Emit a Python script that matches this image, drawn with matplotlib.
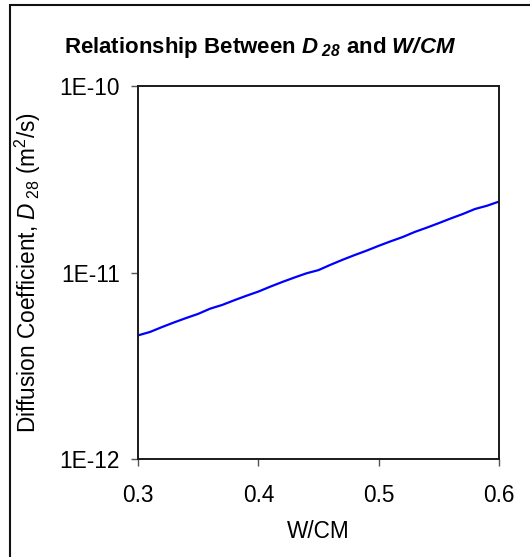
import numpy as np
import matplotlib
matplotlib.use("Agg")
import matplotlib.pyplot as plt
from matplotlib.ticker import FixedLocator, FuncFormatter, NullLocator
from matplotlib.patches import Rectangle

# values (D28 in units of 1e-12 m2/s)
w_cm = [0.30, 0.31, 0.32, 0.33, 0.34, 0.35, 0.36, 0.37, 0.38, 0.39, 0.40,
        0.41, 0.42, 0.43, 0.44, 0.45, 0.46, 0.47, 0.48, 0.49, 0.50,
        0.51, 0.52, 0.53, 0.54, 0.55, 0.56, 0.57, 0.58, 0.59, 0.60]
d28_e12 = [4.6, 4.8, 5.1, 5.4, 5.7, 6.0, 6.4, 6.7, 7.1, 7.5, 7.9,
           8.4, 8.9, 9.4, 9.9, 10.3, 11.0, 11.7, 12.4, 13.1, 13.9,
           14.7, 15.5, 16.5, 17.4, 18.4, 19.5, 20.6, 21.9, 22.8, 24.0]
x_ticks = [0.3, 0.4, 0.5, 0.6]
y_ticks = [1e-12, 1e-11, 1e-10]

plt.rcParams['font.family'] = ['Liberation Sans', 'DejaVu Sans']
plt.rcParams['mathtext.fontset'] = 'custom'
plt.rcParams['mathtext.rm'] = 'Liberation Sans'
plt.rcParams['mathtext.it'] = 'Liberation Sans:italic'
plt.rcParams['mathtext.bf'] = 'Liberation Sans:bold'
plt.rcParams['mathtext.bfit'] = 'Liberation Sans:bold:italic'

fig = plt.figure(figsize=(5.30, 5.57), dpi=100)
ax = fig.add_axes([138 / 530, 1 - 459 / 557, (499 - 138) / 530, (459 - 86) / 557])

d28 = np.array(d28_e12) * 1e-12
ax.plot(w_cm, d28, color='#0000FF', lw=1.6)

ax.set_yscale('log')
ax.set_xlim(0.3, 0.6)
ax.set_ylim(1e-12, 1e-10)
ax.xaxis.set_major_locator(FixedLocator(x_ticks))
ax.yaxis.set_major_locator(FixedLocator(y_ticks))
ax.yaxis.set_minor_locator(NullLocator())
ax.xaxis.set_major_formatter(FuncFormatter(lambda v, p: f"{v:.1f}"))
ax.yaxis.set_major_formatter(FuncFormatter(lambda v, p: f"1E{int(round(np.log10(v)))}"))

for s in ax.spines.values():
    s.set_linewidth(1.4)
    s.set_color('#1a1a1a')
ax.tick_params(axis='both', direction='out', length=5, width=1, color='#555555',
               labelsize=16.3)
ax.tick_params(axis='x', pad=13)
ax.tick_params(axis='y', pad=8)

ax.set_xlabel('W/CM', fontsize=16.3, labelpad=9)
ax.set_ylabel(r'Diffusion Coefficient, $\mathit{D}_{\ \mathrm{28}}$ (m$^2$/s)', fontsize=16.3)
ax.yaxis.set_label_coords(-0.262, 0.5)

fig.text(0.49, 1 - 47 / 557, r'Relationship Between $\mathbfit{D}_{\ \mathbfit{28}}$ and $\mathbfit{W/CM}$',
         ha='center', va='center', fontsize=16, fontweight='bold')

# outer chart frame (right and bottom edges fall outside the picture)
fig.patches.append(Rectangle((10 / 530, -0.05), 1.2, 1 - 5 / 557 + 0.05,
                             transform=fig.transFigure, fill=False,
                             edgecolor='#111111', lw=1.5))

fig.savefig('out.png', dpi=100)
